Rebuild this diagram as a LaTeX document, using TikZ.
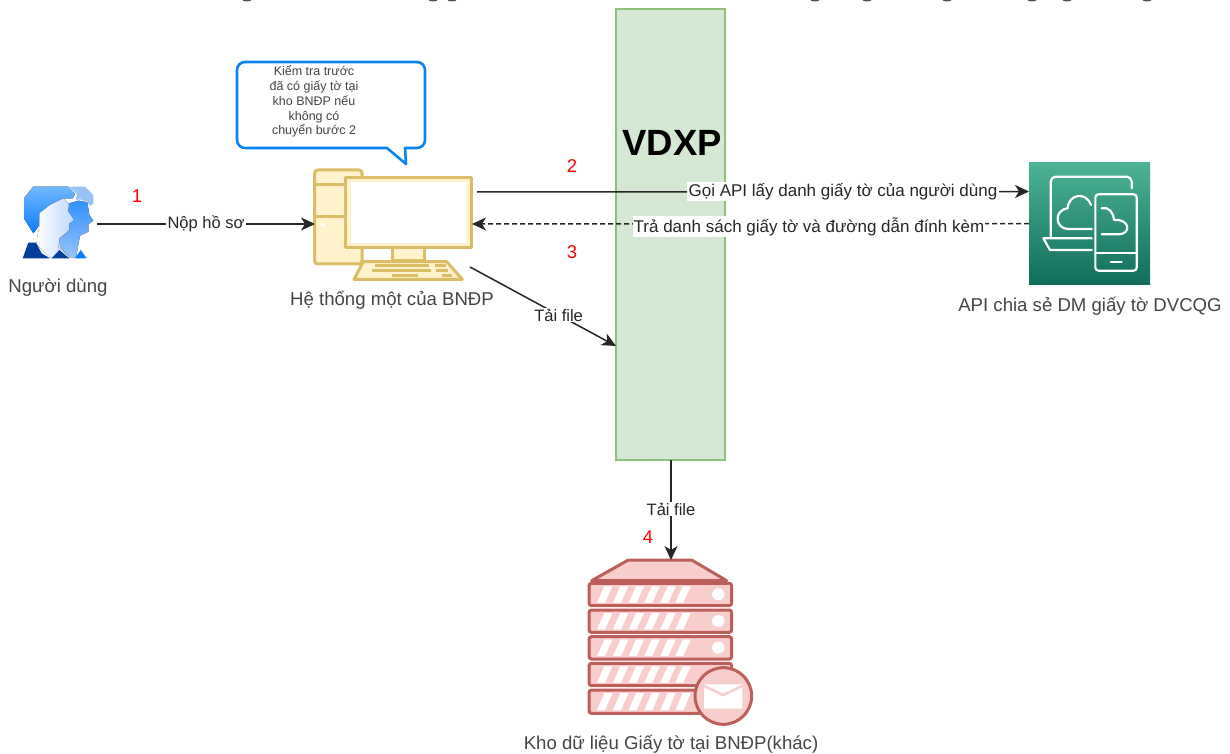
\documentclass[tikz,border=0pt]{standalone}
\usepackage{fontspec}
\setmainfont{Liberation Sans}
\usetikzlibrary{arrows.meta}
\definecolor{ink}{HTML}{262626}
\definecolor{cap}{HTML}{444444}
\definecolor{bluel}{HTML}{0A84F0}
\definecolor{grnf}{HTML}{D5E8D4}
\definecolor{grns}{HTML}{8FC07A}
\definecolor{yelf}{HTML}{FFF2CC}
\definecolor{yels}{HTML}{DBBD66}
\definecolor{redf}{HTML}{F8CECC}
\definecolor{reds}{HTML}{BC5F5B}
\definecolor{apitop}{HTML}{4CB295}
\definecolor{apibot}{HTML}{116D5B}
\definecolor{headtop}{HTML}{70B8FF}
\definecolor{headbot}{HTML}{0A7DFF}
\definecolor{headpale}{HTML}{9CC2F5}
\definecolor{facer}{HTML}{BED8FF}
\definecolor{rearT}{HTML}{3291FF}
\definecolor{rearB}{HTML}{96C3FA}
\definecolor{navy}{HTML}{003F9C}
\tikzset{
  x=1pt,y=1pt,
  conn/.style={draw=ink,line width=1.5pt,-{Stealth[length=14pt,width=13pt,inset=4pt]}},
  edgelabel/.style={fill=white,inner sep=1.2pt,text=ink,font=\fontsize{16.5}{19}\selectfont},
  longlabel/.style={edgelabel,font=\fontsize{17}{19}\selectfont},
  caption/.style={text=cap,inner sep=0pt,font=\fontsize{18.6}{21}\selectfont},
  stepnum/.style={text=red,inner sep=0pt,font=\fontsize{18.5}{21}\selectfont},
  holder/.style={inner sep=0pt,outer sep=0pt,rectangle},
  yel/.style={fill=yelf,draw=yels,line width=3pt,line join=round},
  rack/.style={fill=redf,draw=reds,line width=3pt,rounded corners=2.5pt},
  wire/.style={draw=white,line width=2.2pt,line cap=round,line join=round},
}
\begin{document}
\begin{tikzpicture}
\useasboundingbox (0,0) rectangle (1230,-754);
% cropped title: only the feet of its letters are left
\begin{scope}
\clip (0,0) rectangle (1230,-2);
\foreach \mx in {247,433,452,815,867,947,1032,1067,1147}
  \fill[ink!80] (\mx,0.5) ellipse (5 and 2);
\end{scope}

% anchors of the diagram
\node[holder,minimum width=75pt,minimum height=100pt] (user) at (59.5,-224) {};
\node[holder,minimum width=157pt,minimum height=110pt] (pc) at (393.5,-224) {};
\node[holder,draw=grns,fill=grnf,line width=1.6pt,minimum width=109pt,minimum height=451pt] (vdxp) at (670.5,-234.5) {};
\node[holder,minimum width=121pt,minimum height=121pt,top color=apitop,bottom color=apibot] (api) at (1089.5,-223.5) {};
\node[holder,minimum width=166pt,minimum height=165pt] (store) at (671,-642.5) {};

% person icon
\begin{scope}[shift={(0,-170)},scale=1/3]
\fill[top color=headtop,bottom color=headbot]
  (100,-50)--(205,-50)--(225,-72)--(218,-85)--(190,-85)--(150,-105)--(120,-130)--(115,-170)--(100,-190)--(72,-145)--(72,-85)--cycle;
\fill[headpale]
  (208,-50)--(255,-50)--(280,-75)--(280,-102)--(270,-108)--(262,-95)--(240,-88)--(228,-90)--(230,-72)--cycle;
\fill[top color=rearT,bottom color=rearB]
  (236,-92)--(262,-97)--(268,-135)--(280,-152)--(265,-162)--(265,-185)--(240,-197)--(228,-262)--(212,-262)--(180,-232)--(178,-205)--(205,-185)--(205,-162)--(222,-150)--(205,-125)--(208,-100)--cycle;
\fill[left color=white,right color=facer]
  (190,-85)--(205,-100)--(205,-125)--(222,-150)--(208,-160)--(208,-180)--(178,-205)--(175,-232)--(210,-262)--(150,-262)--(108,-222)--(118,-170)--(118,-130)--(150,-105)--cycle;
\fill[navy] (85,-218)--(108,-218)--(125,-250)--(150,-265)--(68,-265)--cycle;
\fill[navy] (155,-265)--(178,-240)--(208,-265)--cycle;
\fill[headbot] (242,-240)--(260,-265)--(225,-265)--cycle;
\end{scope}

% computer icon
\begin{scope}[shift={(300,-160)},scale=1/3]
\draw[yel,rounded corners=3pt] (44,-30) rectangle (186,-312);
\draw[yel] (44,-75)--(186,-75) (44,-170)--(137,-170);
\fill[white] (68,-193) circle (6);
\draw[yel] (277,-264) rectangle (373,-303);
\draw[yel] (190,-305)--(440,-305)--(487,-358)--(162,-358)--cycle;
\draw[yel] (137,-52) rectangle (513,-264);
\fill[white] (152,-67) rectangle (498,-249);
\draw[yels,line width=2.4pt]
  (225,-316)--(388,-316) (405,-316)--(437,-316)
  (215,-331)--(392,-331) (408,-331)--(445,-331)
  (275,-346)--(355,-346) (425,-346)--(455,-346);
\end{scope}

% API icon
\begin{scope}[shift={(1020,-155)},scale=1/3]
\draw[wire] (92,-245)--(92,-80) arc[start angle=180,end angle=90,radius=15]--(320,-65) arc[start angle=90,end angle=0,radius=15]--(335,-100);
\draw[wire] (215,-250)--(70,-250)--(90,-285)--(215,-285);
\draw[wire,rounded corners=3pt] (226,-118) rectangle (350,-347);
\draw[wire] (226,-293)--(350,-293) (272,-320)--(305,-320);
\draw[wire] (215,-222)--(145,-222) .. controls (105,-222) and (100,-165) .. (143,-160)
  .. controls (145,-115) and (200,-110) .. (213,-150);
\draw[wire] (245,-160) .. controls (265,-155) and (280,-170) .. (282,-195)
  .. controls (330,-190) and (335,-238) .. (295,-238) -- (245,-238);
\end{scope}

% storage icon
\begin{scope}[shift={(500,-450)},scale=1/3]
\draw[fill=redf,draw=reds,line width=3pt,line join=round] (385,-330)--(575,-330)--(680,-392)--(275,-392)--cycle;
\foreach \ya/\yb in {400/467,480/547,560/627,640/707,720/790}{
  \draw[rack] (267,-\ya) rectangle (695,-\yb);
  \foreach \xs in {291,339,386,433,481,526}
    \fill[white] (\xs,-\yb+9)--(\xs+24,-\yb+9)--(\xs+46,-\ya-9)--(\xs+22,-\ya-9)--cycle;
}
\foreach \yd in {433,513,593} \fill[white] (655,-\yd) ellipse (19 and 18);
\draw[fill=redf,draw=reds,line width=3pt] (670,-738) circle (85);
\fill[white] (612,-703)--(727,-703)--(669,-730)--cycle;
\fill[white] (612,-712)--(669,-740)--(727,-712)--(727,-776)--(612,-776)--cycle;
\end{scope}

% speech bubble
\draw[draw=bluel,fill=white,line width=2.6pt,line join=round]
  (245,-62)--(417,-62) arc[start angle=90,end angle=0,radius=8]--(425,-140)
  arc[start angle=0,end angle=-90,radius=8]--(405,-148)--(406,-164)--(387,-148)--(245,-148)
  arc[start angle=-90,end angle=-180,radius=8]--(237,-70) arc[start angle=180,end angle=90,radius=8]--cycle;
\node[align=center,text=cap,inner sep=0pt,font=\fontsize{12.5}{14.8}\selectfont] (note) at (314,-101.5)
  {Kiểm tra trước\\đã có giấy tờ tại\\kho BNĐP nếu\\không có\\chuyển bước 2};

% captions
\node[caption] (userCap) at (58,-288) {Người dùng};
\node[caption] (pcCap) at (392,-300) {Hệ thống một của BNĐP};
\node[caption] (apiCap) at (1090,-306) {API chia sẻ DM giấy tờ DVCQG};
\node[caption] (storeCap) at (671,-744) {Kho dữ liệu Giấy tờ tại BNĐP(khác)};
\node[text=black,inner sep=0pt,font=\bfseries\fontsize{36.5}{40}\selectfont] (vdxpCap) at (672,-143) {VDXP};

% step numbers
\node[stepnum] (n1) at (137,-196) {1};
\node[stepnum] (n2) at (572,-166) {2};
\node[stepnum] (n3) at (572,-252) {3};
\node[stepnum] (n4) at (648,-537) {4};

% connectors
\draw[conn] (user.east) -- node[edgelabel,pos=.5] {Nộp hồ sơ} (pc.west);
\draw[conn] ([shift={(5,32)}]pc.east) -- node[longlabel,pos=.663] {Gọi API lấy danh giấy tờ của người dùng} ([yshift=32]api.west);
\draw[conn,dash pattern=on 5pt off 3pt] (api.west) -- node[longlabel,pos=.395,yshift=-3pt] {Trả danh sách giấy tờ và đường dẫn đính kèm} (pc.east);
\draw[conn] ([shift={(-2,-43)}]pc.east) -- node[edgelabel,pos=.607] {Tải file} ([yshift=-111.5]vdxp.west);
\draw[conn] ([xshift=.5]vdxp.south) -- node[edgelabel,pos=.49] {Tải file} (store.north);
\end{tikzpicture}
\end{document}
